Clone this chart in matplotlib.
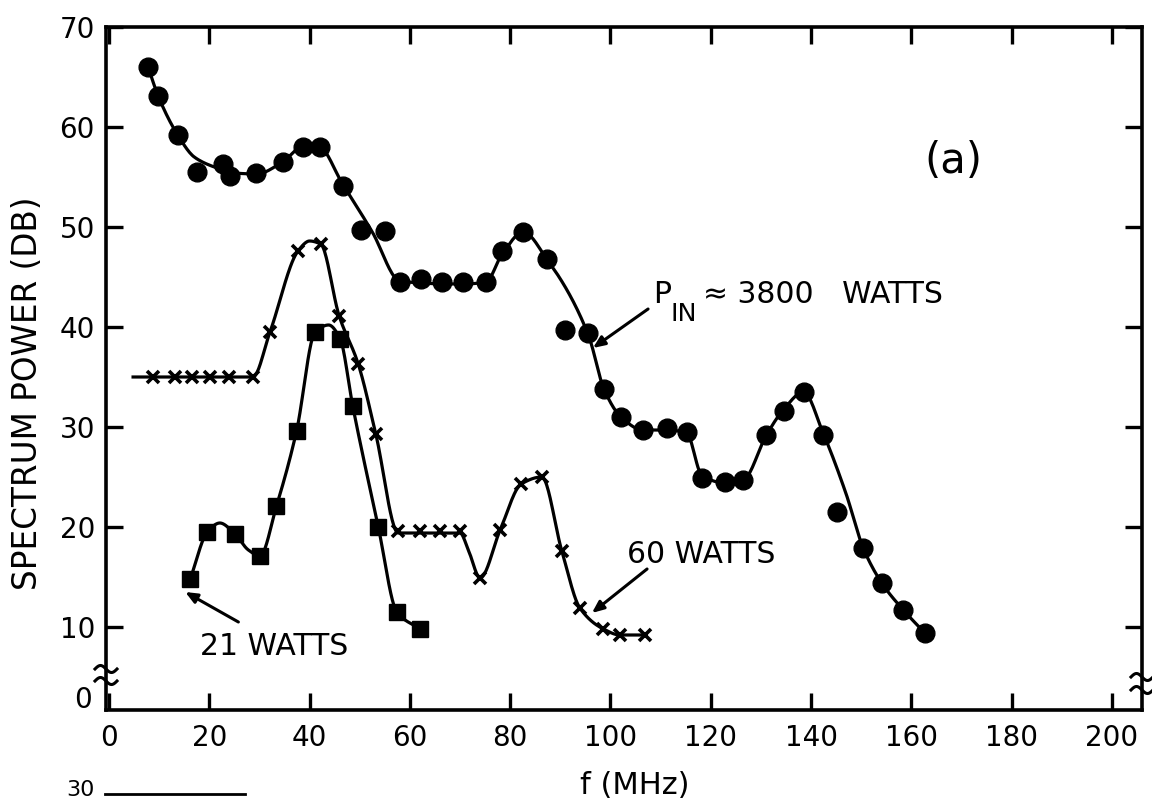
import numpy as np
import matplotlib
matplotlib.use("Agg")
import matplotlib.pyplot as plt
from matplotlib.lines import Line2D

# ---------------- data ----------------
# P_IN ~ 3800 W (filled circles)
circ_f = [7.8, 9.8, 13.7, 17.5, 22.7, 24.1, 29.4, 34.6, 38.7, 42.1, 46.7, 50.2, 55.0, 58.0,
          62.3, 66.5, 70.6, 75.2, 78.3, 82.6, 87.3, 90.9, 95.6, 98.7, 102.1, 106.5, 111.2,
          115.2, 118.2, 122.8, 126.5, 131.1, 134.6, 138.5, 142.4, 145.1, 150.4, 154.1, 158.4, 162.7]
circ_db = [66.0, 63.1, 59.2, 55.5, 56.3, 55.1, 55.4, 56.5, 58.0, 58.0, 54.1, 49.7, 49.6, 44.5,
           44.8, 44.5, 44.5, 44.5, 47.6, 49.5, 46.8, 39.7, 39.4, 33.8, 31.0, 29.7, 29.9,
           29.5, 24.9, 24.5, 24.7, 29.2, 31.6, 33.5, 29.2, 21.5, 17.9, 14.4, 11.7, 9.4]
# hand-drawn curve through the 3800 W data
circ_line_f = [7.8, 9.8, 13.7, 17.0, 21.0, 25.0, 29.4, 34.6, 38.7, 41.5, 46.7, 52.5, 58.0, 62.3,
               66.5, 70.6, 75.2, 78.3, 82.6, 87.3, 95.6, 98.7, 102.1, 106.5, 111.2, 115.2,
               118.2, 122.8, 126.5, 131.1, 134.6, 138.5, 142.4, 147.0, 150.4, 154.1, 158.4, 162.7]
circ_line_db = [66.0, 63.1, 59.2, 57.0, 56.0, 55.4, 55.3, 56.5, 58.1, 58.2, 54.2, 49.5, 44.6, 44.4,
                44.3, 44.3, 44.5, 47.2, 49.5, 46.8, 39.2, 33.8, 31.0, 29.7, 29.7, 29.4,
                25.2, 24.4, 24.7, 29.2, 31.8, 33.5, 29.4, 23.3, 17.9, 14.4, 11.7, 9.4]

# 60 W (crosses)
w60_f = [8.8, 13.2, 16.5, 20.1, 24.0, 28.7, 32.1, 37.7, 42.2, 45.9, 49.7, 53.2, 57.7, 62.0,
         66.0, 70.0, 74.0, 78.0, 82.2, 86.3, 90.3, 93.9, 98.6, 101.9, 106.9]
w60_db = [35.0, 35.0, 35.0, 35.0, 35.0, 35.0, 39.5, 47.6, 48.3, 41.1, 36.3, 29.3, 19.6, 19.6,
          19.6, 19.6, 14.9, 19.7, 24.3, 25.0, 17.6, 11.9, 9.8, 9.2, 9.2]
w60_line_f = [4.8, 28.7, 32.1, 37.7, 40.0, 42.2, 45.9, 49.7, 53.2, 57.7, 70.0, 71.8, 74.0, 78.0,
              82.2, 86.3, 90.3, 93.9, 98.6, 101.9, 106.9]
w60_line_db = [35.0, 35.0, 39.5, 47.6, 48.6, 48.3, 41.1, 36.3, 29.3, 19.4, 19.4, 17.5, 14.9, 19.7,
               24.3, 25.0, 17.6, 11.9, 9.8, 9.2, 9.2]

# 21 W (filled squares)
w21_f = [16.2, 19.6, 25.1, 30.1, 33.4, 37.4, 41.1, 46.1, 48.6, 53.7, 57.4, 62.0]
w21_db = [14.8, 19.5, 19.3, 17.1, 22.1, 29.6, 39.5, 38.8, 32.1, 20.0, 11.5, 9.8]
w21_line_f = [16.2, 19.6, 22.1, 25.1, 27.8, 30.1, 33.4, 37.4, 41.1, 43.8, 46.1, 48.6, 53.7, 57.4, 62.0]
w21_line_db = [14.8, 19.5, 20.4, 19.3, 17.7, 17.1, 22.1, 29.6, 39.5, 40.2, 38.8, 32.1, 20.0, 11.5, 9.8]

x_ticks = [0, 20, 40, 60, 80, 100, 120, 140, 160, 180, 200]
y_ticks = [10, 20, 30, 40, 50, 60, 70]


def smooth(x, y, n=600):
    """Monotone cubic (Fritsch-Carlson) rendering of a curve through nodes."""
    x = np.asarray(x, float)
    y = np.asarray(y, float)
    h = np.diff(x)
    d = np.diff(y) / h
    m = np.zeros_like(y)
    m[0], m[-1] = d[0], d[-1]
    for k in range(1, len(x) - 1):
        if d[k - 1] * d[k] > 0:
            w1 = 2 * h[k] + h[k - 1]
            w2 = h[k] + 2 * h[k - 1]
            m[k] = (w1 + w2) / (w1 / d[k - 1] + w2 / d[k])
    xs = np.linspace(x[0], x[-1], n)
    idx = np.clip(np.searchsorted(x, xs) - 1, 0, len(x) - 2)
    t = (xs - x[idx]) / h[idx]
    h00 = 2 * t**3 - 3 * t**2 + 1
    h10 = t**3 - 2 * t**2 + t
    h01 = -2 * t**3 + 3 * t**2
    h11 = t**3 - t**2
    ys = h00 * y[idx] + h10 * h[idx] * m[idx] + h01 * y[idx + 1] + h11 * h[idx] * m[idx + 1]
    return xs, ys


W, H = 1152, 801
fig = plt.figure(figsize=(W / 100, H / 100), dpi=100)
plt.rcParams['font.family'] = ['DejaVu Sans']

L, R, T, B = 106, 1142, 27, 710
ax = fig.add_axes([L / W, 1 - B / H, (R - L) / W, (B - T) / H])
ax.set_xlim(-0.6, 206)
ax.set_ylim(1.7, 70)

lw_curve = 2.3
xs, ys = smooth(circ_line_f, circ_line_db)
ax.plot(xs, ys, color='black', lw=lw_curve, zorder=3)
ax.plot(circ_f, circ_db, 'o', color='black', ms=13.5, zorder=4)

xs, ys = smooth(w60_line_f, w60_line_db)
ax.plot(xs, ys, color='black', lw=lw_curve, zorder=3)
ax.plot(w60_f, w60_db, 'x', color='black', ms=9, mew=2.6, zorder=4)

xs, ys = smooth(w21_line_f, w21_line_db)
ax.plot(xs, ys, color='black', lw=lw_curve, zorder=3)
ax.plot(w21_f, w21_db, 's', color='black', ms=11.5, zorder=4)

# axes styling
for s in ax.spines.values():
    s.set_linewidth(2.6)
ax.set_xticks(x_ticks)
ax.set_xticklabels([str(v) for v in x_ticks])
ax.set_yticks(y_ticks)
ax.set_yticklabels([str(v) for v in y_ticks])
ax.tick_params(axis='both', which='major', direction='in', length=12, width=2.4,
               labelsize=20, top=True, right=True, labeltop=False, labelright=False)
ax.tick_params(axis='x', pad=10)
ax.tick_params(axis='y', pad=8)

# "0" at the broken bottom of the y axis
fig.text(83 / W, 1 - 700 / H, "0", fontsize=20, ha='center', va='center')

# axis-break squiggles
def squiggle(xc, yc, w=22, a=3.5):
    t = np.linspace(0, 1, 40)
    px = xc + w * (t - 0.5)
    py = yc - a * np.sin(2 * np.pi * t)
    fig.add_artist(Line2D(px / W, 1 - py / H, color='black', lw=2.2))

squiggle(106, 669)
squiggle(106, 681)
squiggle(1142, 677)
squiggle(1142, 690)

# axis labels
fig.text(28 / W, 1 - 393 / H, "SPECTRUM POWER (DB)", rotation=90, fontsize=23.5,
         ha='center', va='center')
fig.text(635 / W, 1 - 785 / H, "f (MHz)", fontsize=22, ha='center', va='center')

# annotations
fs = 21.5
arrow = dict(arrowstyle='-|>,head_length=0.7,head_width=0.3', color='black', lw=2.2,
             shrinkA=0, shrinkB=0)
ax.text(108.5, 42.4, "P", fontsize=fs, ha='left', va='baseline')
ax.text(112.0, 40.6, "IN", fontsize=fs * 0.85, ha='left', va='baseline')
ax.text(118.5, 42.4, "≈ 3800   WATTS", fontsize=fs, ha='left', va='baseline')
ax.annotate("", xy=(96.5, 37.9), xytext=(107.5, 41.8), arrowprops=arrow)

ax.text(103.3, 16.4, "60 WATTS", fontsize=fs, ha='left', va='baseline')
ax.annotate("", xy=(96.3, 11.4), xytext=(107.3, 15.8), arrowprops=arrow)

ax.text(18.1, 7.2, "21 WATTS", fontsize=fs, ha='left', va='baseline')
ax.annotate("", xy=(15.2, 13.5), xytext=(25.8, 10.5), arrowprops=arrow)

ax.text(168.3, 56.6, "(a)", fontsize=30, ha='center', va='center')

# fragment of the next panel at the page bottom
fig.text(80 / W, 1 / H, "30", fontsize=16, ha='center', va='bottom')
fig.add_artist(Line2D([105 / W, 245 / W], [1 - 794 / H, 1 - 794 / H], color='black', lw=2.0))

fig.savefig("out.png", dpi=100)
